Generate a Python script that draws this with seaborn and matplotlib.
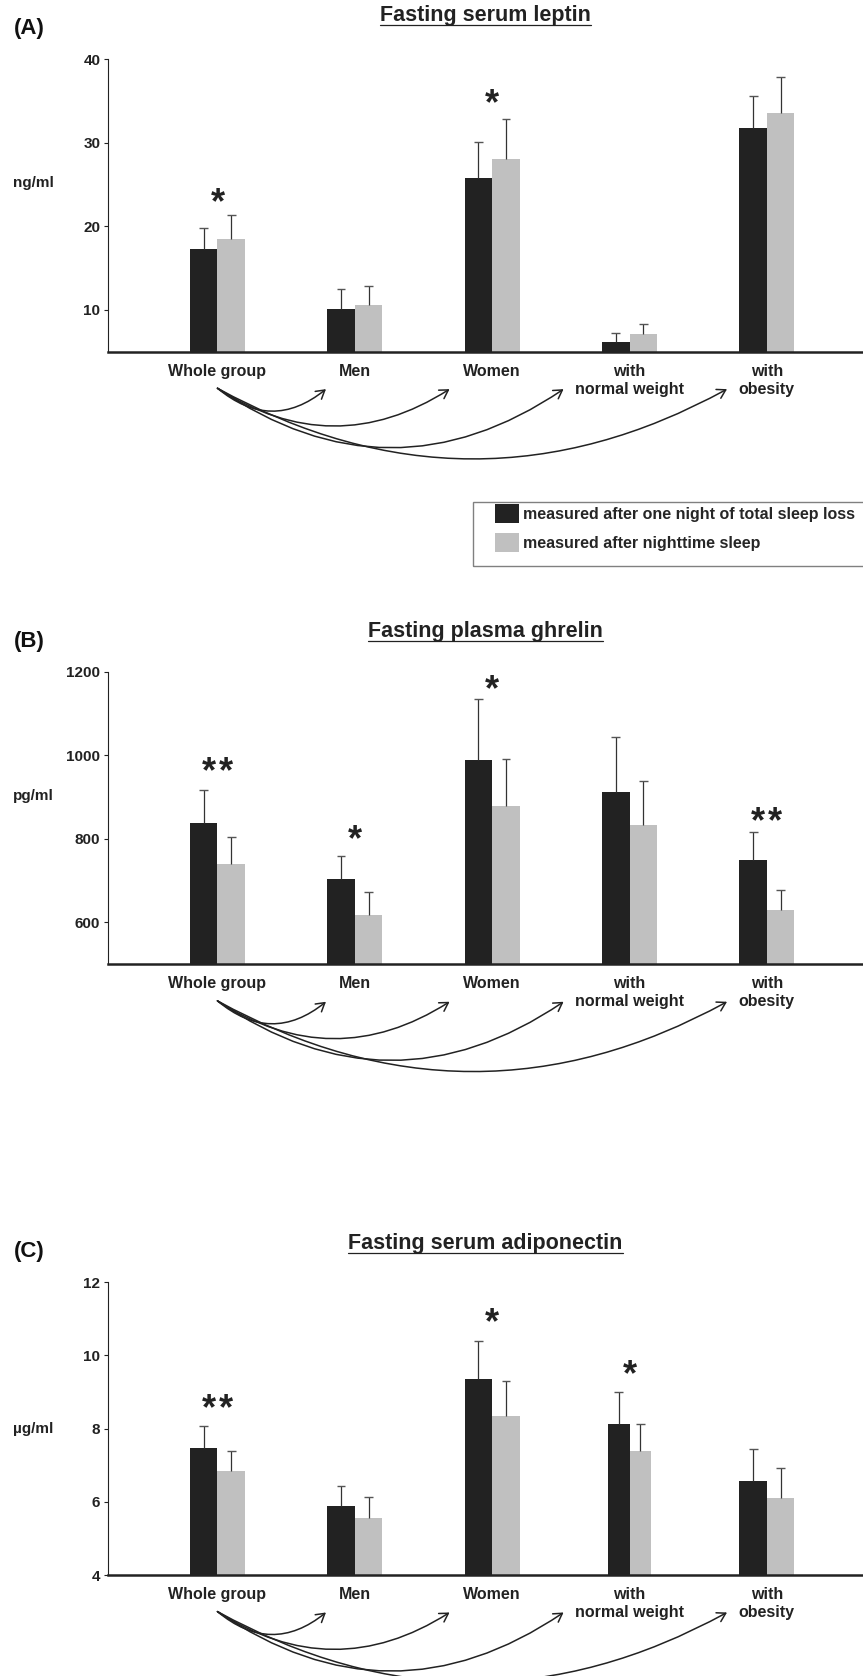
import matplotlib
matplotlib.use("Agg")
import pandas as pd
import seaborn as sns
from matplotlib import pyplot as plt
from matplotlib.lines import Line2D
from matplotlib.patches import Patch, Rectangle

groups = ["Whole group", "Men", "Women", "with\nnormal weight", "with\nobesity"]
conditions = ["measured after one night of total sleep loss", "measured after nighttime sleep"]
colors = {conditions[0]: "#222222", conditions[1]: "#c0c0c0"}

# (A) fasting serum leptin, ng/ml
leptin_loss = [17.26, 10.08, 25.76, 6.17, 31.78]
leptin_loss_sd = [2.59, 2.42, 4.31, 1.08, 3.87]
leptin_sleep = [18.50, 10.56, 28.10, 7.10, 33.57]
leptin_sleep_sd = [2.83, 2.31, 4.76, 1.23, 4.35]
leptin_stars = [("Whole group", 1, 23.8), ("Women", 1, 35.6)]

# (B) fasting plasma ghrelin, pg/ml
ghrelin_loss = [839, 703, 988, 913, 749]
ghrelin_loss_sd = [79, 57, 147, 131, 67]
ghrelin_sleep = [741, 617, 879, 833, 630]
ghrelin_sleep_sd = [64, 56, 111, 106, 47]
ghrelin_stars = [("Whole group", 2, 979), ("Men", 1, 816),
                 ("Women", 1, 1176), ("with\nobesity", 2, 860)]

# (C) fasting serum adiponectin, ug/ml
adipo_loss = [7.47, 5.89, 9.36, 8.13, 6.58]
adipo_loss_sd = [0.61, 0.55, 1.04, 0.86, 0.86]
adipo_sleep = [6.83, 5.56, 8.35, 7.38, 6.10]
adipo_sleep_sd = [0.55, 0.57, 0.94, 0.76, 0.82]
adipo_stars = [("Whole group", 2, 8.74), ("Women", 1, 11.1), ("with\nnormal weight", 1, 9.67)]

# comparison arrows from "Whole group" to the subgroups
arrow_tips = [0.79, 1.69, 2.52, 3.71]
arrow_rads = [0.41, 0.32, 0.34, 0.275]

sns.set_style("white")
plt.rcParams["font.family"] = ["Liberation Sans", "DejaVu Sans"]
plt.rcParams["font.weight"] = "bold"

W, H = 863, 1676
fig = plt.figure(figsize=(W / 100, H / 100), dpi=100)


def draw_panel(rect, label, title, unit, loss, loss_sd, sleep, sleep_sd, ylim, yticks, stars,
               title_y, unit_y, narrow=None):
    ax = fig.add_axes(rect)
    df = pd.DataFrame({"group": groups * 2,
                       "condition": [conditions[0]] * len(groups) + [conditions[1]] * len(groups),
                       "value": loss + sleep})
    sns.barplot(data=df, x="group", y="value", hue="condition", order=groups, hue_order=conditions,
                palette=colors, width=0.4, errorbar=None, saturation=1, linewidth=0,
                legend=False, ax=ax)

    # one group drawn with slimmer bars in the original
    if narrow is not None:
        w2 = 0.157
        dark, light = ax.containers[0][narrow], ax.containers[1][narrow]
        dark.set_x(narrow - w2)
        dark.set_width(w2)
        light.set_x(narrow)
        light.set_width(w2)

    # upper error bars only
    for cont, sds in zip(ax.containers, [loss_sd, sleep_sd]):
        for patch, sd in zip(cont, sds):
            x = patch.get_x() + patch.get_width() / 2
            top = patch.get_height()
            ax.vlines(x, top, top + sd, color="#333333", lw=0.9, zorder=3)
            ax.hlines(top + sd, x - 0.032, x + 0.032, color="#555555", lw=1.0, zorder=3)

    # significance stars, spaced apart like the original
    for grp, n, level in stars:
        for i in range(n):
            dx = (i - (n - 1) / 2) * 12.2
            ax.annotate("*", xy=(groups.index(grp), level), xytext=(dx, -13),
                        textcoords="offset points", ha="center", va="baseline",
                        fontsize=26, color="#222222")

    ax.set_xlim(-0.797, 4.70)
    ax.set_ylim(*ylim)
    ax.set_yticks(yticks)
    ax.set_xlabel("")
    ax.tick_params(axis="x", length=0, pad=8.5, labelsize=11.5, colors="#222222")
    ax.tick_params(axis="y", length=3, width=0.8, pad=2.5, labelsize=11, colors="#222222",
                   left=True)
    for t in ax.get_xticklabels():
        t.set_linespacing(1.28)
    sns.despine(ax=ax)
    ax.spines["left"].set_linewidth(0.8)
    ax.spines["left"].set_color("#222222")
    ax.spines["bottom"].set_linewidth(1.8)
    ax.spines["bottom"].set_color("#222222")

    ax.set_ylabel(unit, rotation=0, fontsize=11, fontweight="bold", va="center", ha="center",
                  color="#222222")
    ax.yaxis.set_label_coords(-0.099, unit_y)

    ax.text(-0.1245, 1.104, label, transform=ax.transAxes, ha="left", va="center",
            fontsize=16, color="#111111")
    ttl = ax.text(0.5, title_y, title, transform=ax.transAxes, ha="center", va="center",
                  fontsize=15.5, color="#222222")

    for tip, rad in zip(arrow_tips, arrow_rads):
        ax.annotate("", xy=(tip, -0.128), xytext=(0, -0.125),
                    xycoords=("data", "axes fraction"), textcoords=("data", "axes fraction"),
                    arrowprops=dict(arrowstyle="->,head_length=0.3,head_width=0.18",
                                    connectionstyle=f"arc3,rad={rad}", lw=1.1, color="#222222",
                                    shrinkA=0, shrinkB=0, mutation_scale=20),
                    annotation_clip=False)
    return ax, ttl


left, width = 108 / W, 1 - 108 / W
axA, tA = draw_panel([left, 1 - 351.7 / H, width, 292.4 / H], "(A)", "Fasting serum leptin", "ng/ml",
                     leptin_loss, leptin_loss_sd, leptin_sleep, leptin_sleep_sd,
                     (5, 40), [10, 20, 30, 40], leptin_stars, 1.151, 0.577)
axB, tB = draw_panel([left, 1 - 964.3 / H, width, 292.6 / H], "(B)", "Fasting plasma ghrelin", "pg/ml",
                     ghrelin_loss, ghrelin_loss_sd, ghrelin_sleep, ghrelin_sleep_sd,
                     (500, 1200), [600, 800, 1000, 1200], ghrelin_stars, 1.139, 0.575)
axC, tC = draw_panel([left, 1 - 1575 / H, width, 292.7 / H], "(C)", "Fasting serum adiponectin", "µg/ml",
                     adipo_loss, adipo_loss_sd, adipo_sleep, adipo_sleep_sd,
                     (4, 12), [4, 6, 8, 10, 12], adipo_stars, 1.134, 0.499, narrow=3)

# legend between panels A and B, with its own frame
handles = [Patch(facecolor=colors[c], edgecolor="none") for c in conditions]
fig.legend(handles, conditions, loc="upper left", bbox_to_anchor=(495 / W, 1 - 504 / H),
           frameon=False, fontsize=11.5, handlelength=1.5, handleheight=1.45,
           handletextpad=0.25, labelspacing=0.62, borderpad=0, borderaxespad=0)
fig.add_artist(Rectangle((473 / W, 1 - 566 / H), (880 - 473) / W, 64 / H, transform=fig.transFigure,
                         fill=False, edgecolor="#808080", lw=1.0))

# underline the panel titles
fig.canvas.draw()
renderer = fig.canvas.get_renderer()
for t in [tA, tB, tC]:
    bb = t.get_window_extent(renderer)
    y = (bb.y0 + 0.5) / H
    fig.add_artist(Line2D([bb.x0 / W, bb.x1 / W], [y, y], transform=fig.transFigure,
                          color="#222222", lw=0.9))

fig.savefig("out.png", dpi=100)
